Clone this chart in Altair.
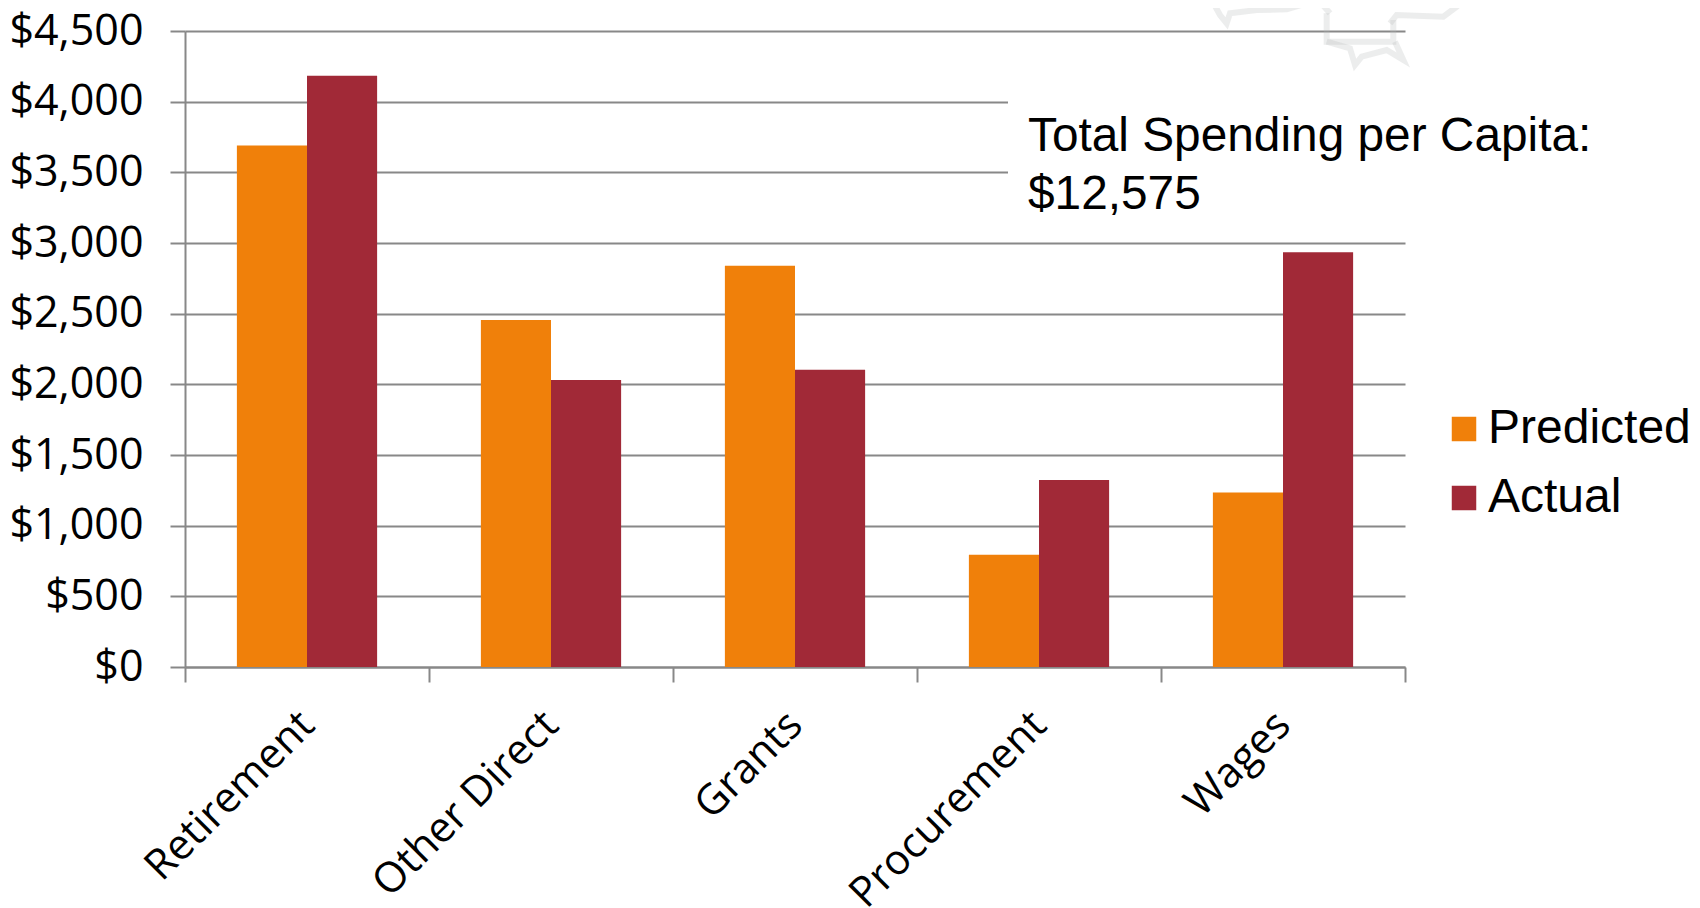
import altair as alt
import pandas as pd

categories = ["Retirement", "Other Direct", "Grants", "Procurement", "Wages"]
predicted = [3689, 2456, 2839, 795, 1235]
actual = [4183, 2031, 2104, 1323, 2935]
series_names = ["Predicted", "Actual"]
series_colors = ["#F0800A", "#A12937"]
y_ticks = [0, 500, 1000, 1500, 2000, 2500, 3000, 3500, 4000, 4500]
note_lines = ["Total Spending per Capita:", "$12,575"]

# faint map fragment at the top right, read in units of the map's own crop
map_id = [0] * 8 + [1] * 2 + [2] * 4 + [3] * 7 + [4] * 5
map_x = [65, 90, 110, 120, 200, 290, 350, 370,
         385, 420,
         410, 410, 610, 610,
         410, 480, 495, 515, 590, 640, 615,
         600, 620, 760, 800, 820]
map_y = [0, 45, 70, 40, 30, 28, 10, 0,
         0, 40,
         40, 125, 125, 60,
         125, 145, 195, 170, 150, 180, 125,
         70, 45, 50, 20, 0]

rows = []
for c, p, a in zip(categories, predicted, actual):
    rows.append({"category": c, "series": "Predicted", "value": p})
    rows.append({"category": c, "series": "Actual", "value": a})
df = pd.DataFrame(rows)

map_df = pd.DataFrame({"part": map_id, "mx": map_x, "my": map_y, "order": range(len(map_x))})

GREY = "#888888"
LABEL_FONT = "Open Sans"
NOTE_FONT = "Liberation Sans"

bars = alt.Chart(df).mark_bar().encode(
    x=alt.X(
        "category:N",
        sort=categories,
        title=None,
        scale=alt.Scale(paddingInner=0, paddingOuter=0),
        axis=alt.Axis(
            tickBand="extent", tickSize=15, tickWidth=2, tickColor=GREY,
            domainColor=GREY, domainWidth=2, labelAngle=-45, labelAlign="right",
            labelBaseline="middle", labelFont=LABEL_FONT, labelFontSize=42,
            labelColor="#000000", labelPadding=36, labelLimit=400, grid=False,
        ),
    ),
    xOffset=alt.XOffset("series:N", sort=series_names, scale=alt.Scale(paddingInner=0, paddingOuter=0.74)),
    y=alt.Y(
        "value:Q",
        title=None,
        scale=alt.Scale(domain=[0, 4500], nice=False),
        axis=alt.Axis(
            values=y_ticks, format="$,.0f", tickSize=15, tickWidth=2, tickColor=GREY,
            domainColor=GREY, domainWidth=2, gridColor=GREY, gridWidth=2, grid=True,
            labelFont=LABEL_FONT, labelFontSize=43, labelColor="#000000", labelPadding=27,
        ),
    ),
    color=alt.Color(
        "series:N",
        sort=series_names,
        scale=alt.Scale(domain=series_names, range=series_colors),
        legend=alt.Legend(
            title=None, orient="none", legendX=1255, legendY=374, symbolType="square",
            symbolSize=600, symbolStrokeWidth=0, labelFont=NOTE_FONT, labelFontSize=48,
            labelColor="#000000", rowPadding=21, labelOffset=0, labelLimit=300,
        ),
    ),
)

mask = alt.Chart(pd.DataFrame({"a": [1]})).mark_rect(color="white").encode(
    x=alt.value(823), x2=alt.value(1230), y=alt.value(50), y2=alt.value(180)
)

map_lines = alt.Chart(map_df).mark_line(color="#B5B8B8", strokeWidth=6, opacity=0.25, clip=False).encode(
    x=alt.X("mx:Q", scale=alt.Scale(domain=[0, 870], range=[1005, 1295]), axis=None),
    y=alt.Y("my:Q", scale=alt.Scale(domain=[0, 240], range=[-31, 49]), axis=None),
    detail="part:N",
    order="order:Q",
)

note_1 = alt.Chart(pd.DataFrame({"line": [note_lines[0]]})).mark_text(
    align="left", baseline="alphabetic", font=NOTE_FONT, fontSize=47.8, color="#000000"
).encode(x=alt.value(843), y=alt.value(120), text="line:N")

note_2 = alt.Chart(pd.DataFrame({"line": [note_lines[1]]})).mark_text(
    align="left", baseline="alphabetic", font=NOTE_FONT, fontSize=47.8, color="#000000"
).encode(x=alt.value(843), y=alt.value(178), text="line:N")

chart = alt.layer(map_lines, mask, bars, note_1, note_2).resolve_scale(
    x="independent", y="independent"
).properties(
    width=1220,
    height=636,
    autosize=alt.AutoSizeParams(type="none"),
    padding={"left": 177, "top": 23, "right": 287, "bottom": 241},
).configure_view(stroke=None)

chart.save("out.html", embed_options={"renderer": "svg", "actions": False})
